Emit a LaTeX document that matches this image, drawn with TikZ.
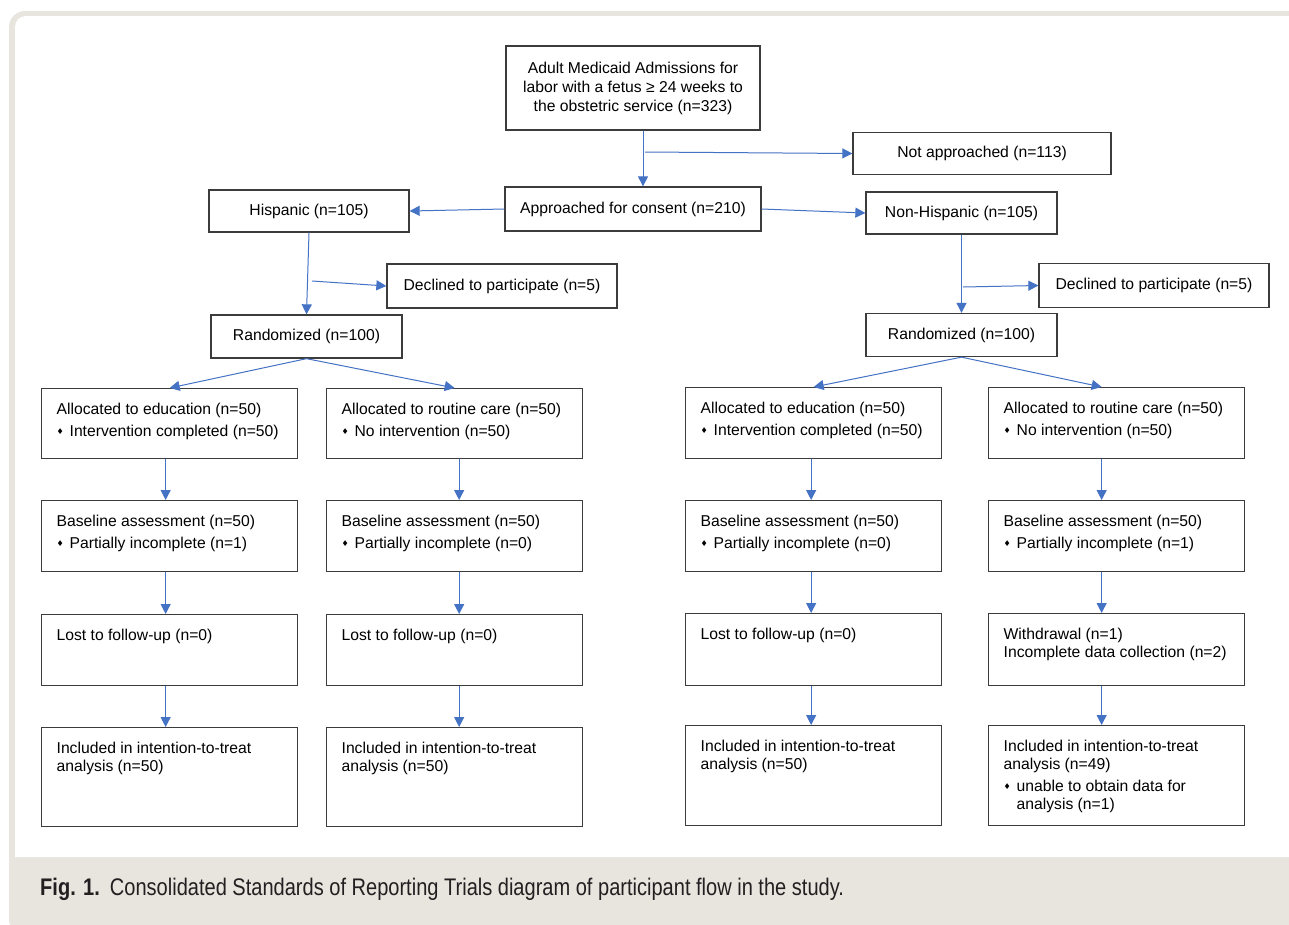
\documentclass[tikz,border=0pt]{standalone}
\usepackage{fontspec}
\setmainfont{Liberation Sans}
\newfontfamily\capfont[FakeStretch=0.835]{Liberation Sans}
\newfontfamily\symfont{DejaVu Sans}
\usetikzlibrary{arrows.meta}

\definecolor{flowblue}{HTML}{4472C4}
\definecolor{boxgray}{HTML}{3C3C3C}
\definecolor{framebeige}{HTML}{E8E5DF}
\definecolor{captext}{HTML}{231F20}

% small diamond bullet and top-aligned box text
\newcommand{\bul}{\makebox[13pt][l]{\raisebox{1.5pt}{\symfont\fontsize{8}{8}\selectfont ♦}}}
\newcommand{\toptxt}[2]{\parbox[c][#1][t]{226pt}{\raggedright #2}}

\begin{document}
\begin{tikzpicture}[x=1pt,y=-1pt,font=\fontsize{15.7}{18}\selectfont,
    cbox/.style={draw=boxgray,line width=1.3pt,align=center,inner sep=0pt},
    lbox/.style={draw=boxgray,line width=1.3pt,anchor=north west,inner xsep=15pt,inner ysep=14pt},
    arr/.style={draw,color=flowblue,line width=1pt,-{Triangle[length=10pt,width=10pt]}}]
        \useasboundingbox (0,0) rectangle (1289,924);

        % frame and caption band
        \fill[framebeige,rounded corners=16pt] (9,11) rectangle (1320,935);
        \fill[white] (15,857) [rounded corners=11pt] -- (15,16) [sharp corners] -- (1320,16) -- (1320,857) -- cycle;

        \node[cbox,minimum width=254pt,minimum height=84pt,font=\fontsize{15.7}{19}\selectfont] at (633,88) (top) {Adult Medicaid Admissions for\\labor with a fetus ≥ 24 weeks to\\the obstetric service (n=323)};
        \node[cbox,minimum width=258pt,minimum height=42pt] at (982,153.5) (notapp) {Not approached (n=113)};
        \node[cbox,minimum width=256pt,minimum height=44pt] at (633,209) (app) {Approached for consent (n=210)};
        \node[cbox,minimum width=200pt,minimum height=42pt] at (309,211) (his) {Hispanic (n=105)};
        \node[cbox,minimum width=191pt,minimum height=42pt] at (961.5,213) (nonhis) {Non-Hispanic (n=105)};
        \node[cbox,minimum width=230pt,minimum height=44pt] at (502,286) (declL) {Declined to participate (n=5)};
        \node[cbox,minimum width=230pt,minimum height=44pt] at (1154,285.5) (declR) {Declined to participate (n=5)};
        \node[cbox,minimum width=191pt,minimum height=43pt] at (306.5,336.5) (randL) {Randomized (n=100)};
        \node[cbox,minimum width=191pt,minimum height=43pt] at (961.5,335) (randR) {Randomized (n=100)};

        % Hispanic arms
        \node[lbox] at (41,388) (eduL) {\toptxt{42pt}{Allocated to education (n=50)\\[4pt]\bul Intervention completed (n=50)}};
        \node[lbox] at (326,388) (rouL) {\toptxt{42pt}{Allocated to routine care (n=50)\\[4pt]\bul No intervention (n=50)}};
        \node[lbox] at (41,500) (baseL) {\toptxt{43pt}{Baseline assessment (n=50)\\[4pt]\bul Partially incomplete (n=1)}};
        \node[lbox] at (326,500) (baseLr) {\toptxt{43pt}{Baseline assessment (n=50)\\[4pt]\bul Partially incomplete (n=0)}};
        \node[lbox] at (41,614) (lostL) {\toptxt{43pt}{Lost to follow-up (n=0)}};
        \node[lbox] at (326,614) (lostLr) {\toptxt{43pt}{Lost to follow-up (n=0)}};
        \node[lbox] at (41,727) (incL) {\toptxt{71pt}{Included in intention-to-treat\\analysis (n=50)}};
        \node[lbox] at (326,727) (incLr) {\toptxt{71pt}{Included in intention-to-treat\\analysis (n=50)}};

        % Non-Hispanic arms
        \node[lbox] at (685,387) (eduR) {\toptxt{43pt}{Allocated to education (n=50)\\[4pt]\bul Intervention completed (n=50)}};
        \node[lbox] at (988,387) (rouR) {\toptxt{43pt}{Allocated to routine care (n=50)\\[4pt]\bul No intervention (n=50)}};
        \node[lbox] at (685,500) (baseR) {\toptxt{43pt}{Baseline assessment (n=50)\\[4pt]\bul Partially incomplete (n=0)}};
        \node[lbox] at (988,500) (baseRr) {\toptxt{43pt}{Baseline assessment (n=50)\\[4pt]\bul Partially incomplete (n=1)}};
        \node[lbox] at (685,613) (lostR) {\toptxt{44pt}{Lost to follow-up (n=0)}};
        \node[lbox] at (988,613) (wdR) {\toptxt{44pt}{Withdrawal (n=1)\\Incomplete data collection (n=2)}};
        \node[lbox] at (685,725) (incR) {\toptxt{72pt}{Included in intention-to-treat\\analysis (n=50)}};
        \node[lbox] at (988,725) (incRr) {\toptxt{72pt}{Included in intention-to-treat\\analysis (n=49)\\[4pt]\bul unable to obtain data for\\\hspace*{13pt}analysis (n=1)}};

        \coordinate (topj) at (645,152);
        \coordinate (hisj) at (312,281);
        \coordinate (nonj) at (963,287);

        \path[every edge/.style={arr}]
            ([xshift=10pt]top.south) edge ([xshift=10pt]app.north)
            (topj) edge (notapp.west)
            (app.west) edge (his.east)
            (app.east) edge (nonhis.west)
            (his.south) edge (randL.north)
            (hisj) edge (declL.west)
            (nonhis.south) edge (randR.north)
            (nonj) edge (declR.west)
            (randL.south) edge (eduL.north)
            (randL.south) edge (rouL.north)
            (randR.south) edge (eduR.north)
            (randR.south) edge ([xshift=-15pt]rouR.north)
            ([xshift=-4pt]eduL.south) edge ([xshift=-4pt]baseL.north)
            ([xshift=-4pt]baseL.south) edge ([xshift=-4pt]lostL.north)
            ([xshift=-4pt]lostL.south) edge ([xshift=-4pt]incL.north)
            ([xshift=4.5pt]rouL.south) edge ([xshift=4.5pt]baseLr.north)
            ([xshift=4.5pt]baseLr.south) edge ([xshift=4.5pt]lostLr.north)
            ([xshift=4.5pt]lostLr.south) edge ([xshift=4.5pt]incLr.north)
            ([xshift=-2.5pt]eduR.south) edge ([xshift=-2.5pt]baseR.north)
            ([xshift=-2.5pt]baseR.south) edge ([xshift=-2.5pt]lostR.north)
            ([xshift=-2.5pt]lostR.south) edge ([xshift=-2.5pt]incR.north)
            ([xshift=-15pt]rouR.south) edge ([xshift=-15pt]baseRr.north)
            ([xshift=-15pt]baseRr.south) edge ([xshift=-15pt]wdR.north)
            ([xshift=-15pt]wdR.south) edge ([xshift=-15pt]incRr.north)
            ;

        \node[anchor=base west,inner sep=0pt,text=captext,font=\capfont\fontsize{24}{27}\selectfont] at (40,895) (caption) {\textbf{Fig. 1.}\hspace{10pt}Consolidated Standards of Reporting Trials diagram of participant flow in the study.};
\end{tikzpicture}
\end{document}
